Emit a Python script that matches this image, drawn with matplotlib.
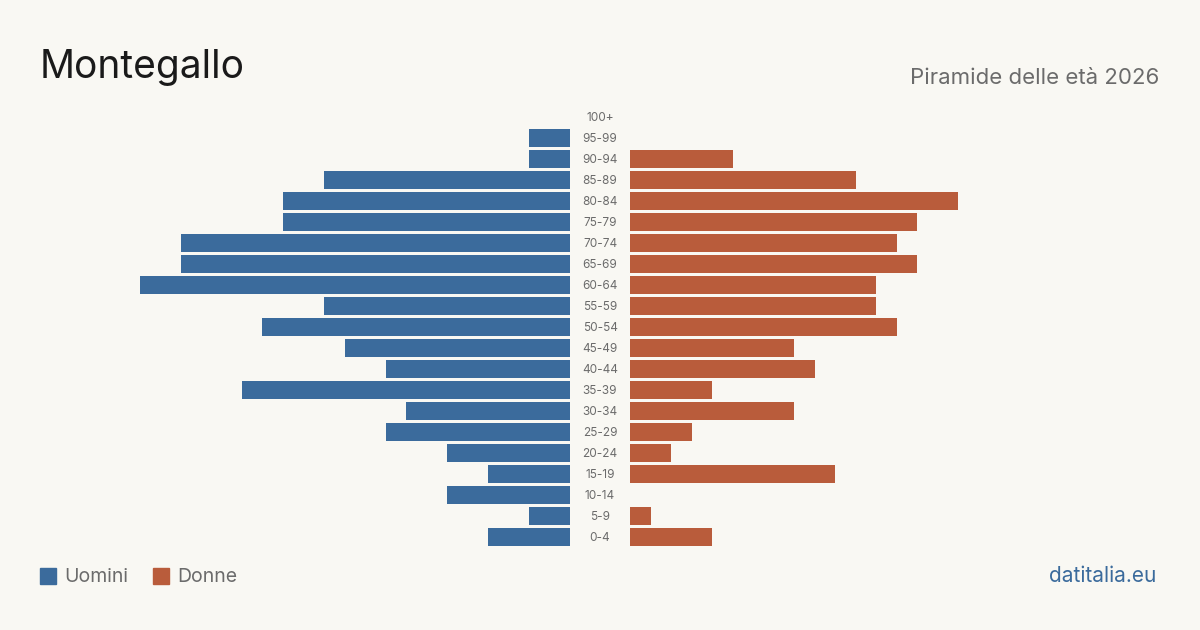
import matplotlib.pyplot as plt

eta = ["0-4", "5-9", "10-14", "15-19", "20-24", "25-29", "30-34", "35-39",
       "40-44", "45-49", "50-54", "55-59", "60-64", "65-69", "70-74", "75-79",
       "80-84", "85-89", "90-94", "95-99", "100+"]
uomini = [4, 2, 6, 4, 6, 9, 8, 16, 9, 11, 15, 12, 21, 19, 19, 14, 14, 12, 2, 2, 0]
donne = [4, 1, 0, 10, 2, 3, 8, 4, 9, 8, 13, 12, 12, 14, 13, 14, 16, 11, 5, 0, 0]

blu = "#3b6b9c"
rosso = "#b95c3b"
sfondo = "#f9f8f3"
grigio = "#6b6b6b"

plt.rcParams['font.family'] = ['Inter', 'DejaVu Sans']

fig = plt.figure(figsize=(12, 6.3), dpi=100, facecolor=sfondo)
ax = fig.add_axes([0, 0, 1, 1])
ax.set_facecolor(sfondo)

px = 20.5            # pixel per persona
meta_gap = 30 / px   # mezzo spazio centrale per le etichette
y = list(range(len(eta)))

ax.barh(y, [-m for m in uomini], left=-meta_gap, height=0.81, color=blu)
ax.barh(y, donne, left=meta_gap, height=0.81, color=rosso)
for i, e in enumerate(eta):
    ax.text(0, i - 0.05, e, ha="center", va="center", fontsize=8.5, color=grigio)

ax.set_xlim(-600 / px, 600 / px)
ax.set_ylim(-93 / 21, 537 / 21)
ax.axis("off")

fig.text(40 / 1200, 1 - 67 / 630, "Montegallo", fontsize=28, color="#1a1a1a",
         va="center", ha="left")
fig.text(1159 / 1200, 1 - 77.5 / 630, "Piramide delle età 2026", fontsize=16,
         color=grigio, va="center", ha="right")

# legenda
fig.patches.append(plt.Rectangle((40 / 1200, 1 - 584 / 630), 16 / 1200, 16 / 630,
                                 transform=fig.transFigure, color=blu))
fig.text(64 / 1200, 1 - 576.5 / 630, "Uomini", fontsize=14, color=grigio, va="center")
fig.patches.append(plt.Rectangle((153 / 1200, 1 - 584 / 630), 16 / 1200, 16 / 630,
                                 transform=fig.transFigure, color=rosso))
fig.text(177 / 1200, 1 - 576.5 / 630, "Donne", fontsize=14, color=grigio, va="center")

fig.text(1156 / 1200, 1 - 576.5 / 630, "datitalia.eu", fontsize=15, color=blu,
         va="center", ha="right")

fig.savefig("out.png", dpi=100, facecolor=sfondo)
